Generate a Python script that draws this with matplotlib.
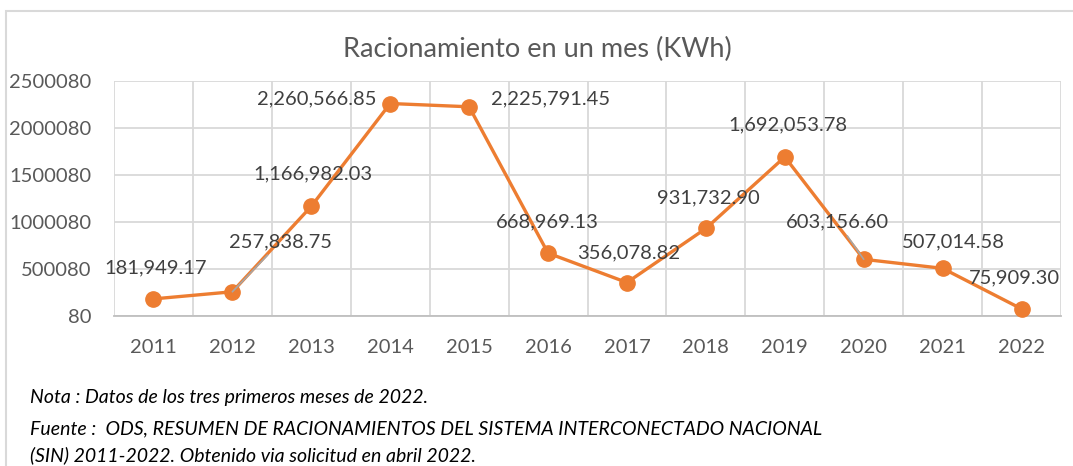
import matplotlib.pyplot as plt
from matplotlib.patches import Rectangle

# datos
years = ["2011", "2012", "2013", "2014", "2015", "2016",
         "2017", "2018", "2019", "2020", "2021", "2022"]
kwh = [181949.17, 257838.75, 1166982.03, 2260566.85, 2225791.45, 668969.13,
       356078.82, 931732.90, 1692053.78, 603156.60, 507014.58, 75909.30]
yticks = [80, 500080, 1000080, 1500080, 2000080, 2500080]

# desplazamiento de etiquetas (pixeles) y si llevan linea guia
label_off = [(2, 31), (48, 50), (2, 32), (-73, 5), (81, 8), (-1, 31),
             (2, 30), (2, 31), (3, 32), (-26, 37), (11, 26), (-7, 31)]
leader = [False, True, False, False, False, False,
          False, False, False, True, False, False]

plt.rcParams['font.family'] = ['Lato', 'DejaVu Sans']

fig = plt.figure(figsize=(10.73, 4.66), dpi=100)
fig.patches.append(Rectangle((6/1073, -0.1), 1.2, 1 - 11/466 + 0.1,
                             transform=fig.transFigure, fill=False,
                             edgecolor="#d9d9d9", linewidth=1.5))

ax = fig.add_axes([114/1073, 1 - 316/466, (1061 - 114)/1073, 235/466])
x = list(range(len(years)))
ax.plot(x, kwh, color="#ED7D31", linewidth=2.4, marker="o",
        markersize=11, zorder=3, clip_on=False)

for i, v in enumerate(kwh):
    dx, dy = label_off[i]
    txt = f"{v:,.2f}"
    if leader[i]:
        ax.annotate(txt, (i, v), xytext=(dx, dy), textcoords="offset pixels",
                    ha="center", va="center", fontsize=14.5, color="#404040",
                    arrowprops=dict(arrowstyle="-", color="#a6a6a6", lw=1.2,
                                    shrinkA=2, shrinkB=0), zorder=4)
    else:
        ax.annotate(txt, (i, v), xytext=(dx, dy), textcoords="offset pixels",
                    ha="center", va="center", fontsize=14.5, color="#404040",
                    zorder=4, annotation_clip=False)

ax.set_xlim(-0.5, 11.5)
ax.set_ylim(80, 2500080)
ax.set_yticks(yticks)
ax.set_yticklabels([str(t) for t in yticks])
ax.set_xticks(x)
ax.set_xticklabels(years)
ax.set_xticks([i - 0.5 for i in range(13)], minor=True)
ax.grid(True, which="minor", axis="x", color="#d9d9d9", linewidth=1.3)
ax.grid(True, which="major", axis="y", color="#d9d9d9", linewidth=1.3)
ax.tick_params(which="both", length=0)
ax.tick_params(axis="y", pad=16.5, labelsize=14.5, labelcolor="#595959")
ax.tick_params(axis="x", pad=16.5, labelsize=14.5, labelcolor="#595959")
for s in ["top", "right", "left"]:
    ax.spines[s].set_visible(False)
ax.spines["bottom"].set_color("#bfbfbf")
ax.spines["bottom"].set_linewidth(1.3)
ax.set_axisbelow(True)

fig.text(537/1073, 1 - 49/466, "Racionamiento en un mes (KWh)", ha="center",
         va="center", fontsize=19.5, color="#595959")

fig.text(30/1073, 1 - 398/466, "Nota : Datos de los tres primeros meses de 2022.",
         ha="left", va="center", fontsize=14, style="italic", color="black")
fig.text(30/1073, 1 - 429/466,
         "Fuente :  ODS, RESUMEN DE RACIONAMIENTOS DEL SISTEMA INTERCONECTADO NACIONAL",
         ha="left", va="center", fontsize=14, style="italic", color="black")
fig.text(30/1073, 1 - 455/466,
         "(SIN) 2011-2022. Obtenido via solicitud en abril 2022.",
         ha="left", va="center", fontsize=14, style="italic", color="black")

fig.savefig("out.png", dpi=100)
